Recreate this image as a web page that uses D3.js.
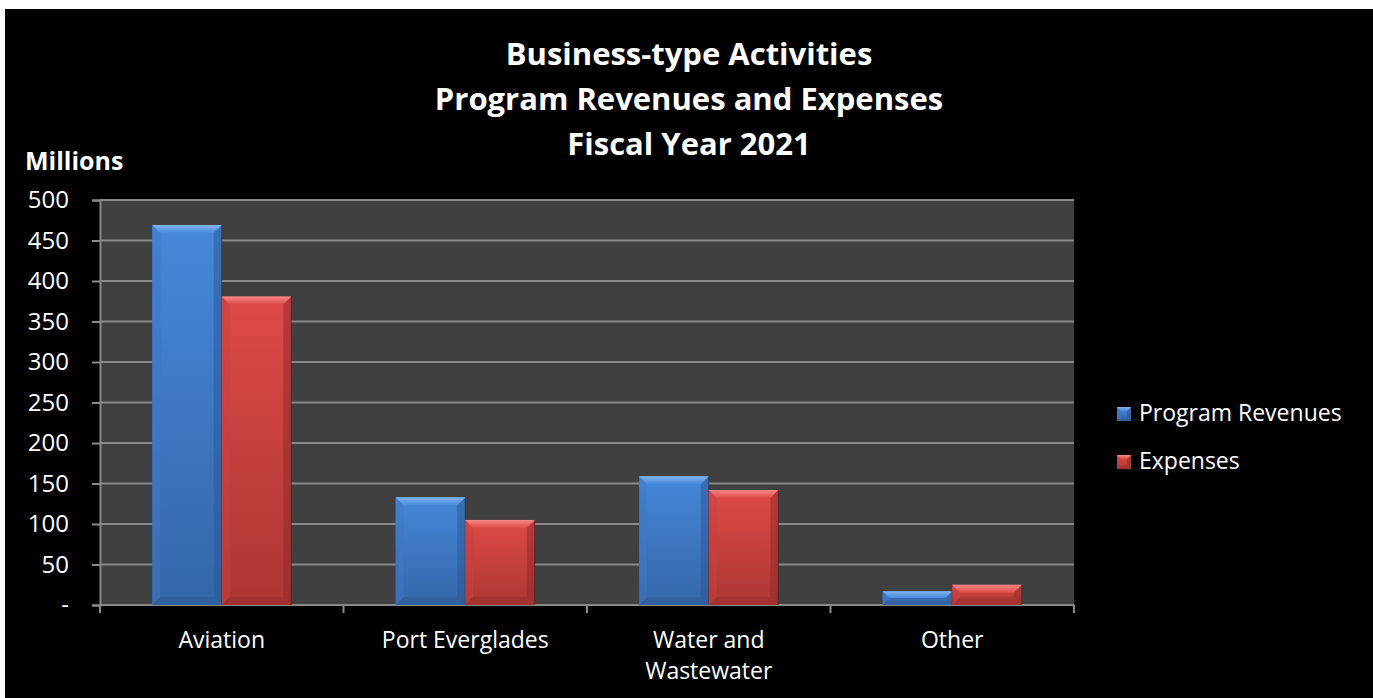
<!DOCTYPE html>
<html>
<head>
<meta charset="utf-8">
<script src="https://cdn.jsdelivr.net/npm/d3@7"></script>
<style>
  html, body { margin: 0; padding: 0; background: #ffffff; }
  svg { display: block; }
  text { font-family: "Open Sans", "DejaVu Sans", sans-serif; fill: #ffffff; }
</style>
</head>
<body>
<div id="chart"></div>
<script>
'use strict';

var categories = ['Aviation', 'Port Everglades', 'Water and Wastewater', 'Other'];
var categoryLines = [['Aviation'], ['Port Everglades'], ['Water and', 'Wastewater'], ['Other']];
var seriesNames = ['Program Revenues', 'Expenses'];
var programRevenues = [469, 133, 159, 17];
var expenses = [381, 105, 142, 25];
var yTicks = [0, 50, 100, 150, 200, 250, 300, 350, 400, 450, 500];
var yTickLabels = ['-', '50', '100', '150', '200', '250', '300', '350', '400', '450', '500'];
var titleLines = ['Business-type Activities', 'Program Revenues and Expenses', 'Fiscal Year 2021'];

var width = 1373,
    height = 698;
var plot = { left: 100, right: 1074, top: 200, bottom: 605 };

var palette = {
    'Program Revenues': { top: '#4688da', bottom: '#3566a8', light: '#82b4f0', dark: '#2c5590', side: '#3f78c2' },
    'Expenses': { top: '#de4a47', bottom: '#ac3633', light: '#f58a87', dark: '#8e2a28', side: '#c84040' }
};

var svg = d3.select('#chart').append('svg')
    .attr('width', width)
    .attr('height', height);

var defs = svg.append('defs');
seriesNames.forEach(function (name, i) {
    var g = defs.append('linearGradient')
        .attr('id', 'grad' + i)
        .attr('x1', 0).attr('y1', 0).attr('x2', 0).attr('y2', 1);
    g.append('stop').attr('offset', '0%').attr('stop-color', palette[name].top);
    g.append('stop').attr('offset', '100%').attr('stop-color', palette[name].bottom);
    var t = defs.append('linearGradient')
        .attr('id', 'bevel' + i)
        .attr('x1', 0).attr('y1', 0).attr('x2', 0).attr('y2', 1);
    t.append('stop').attr('offset', '0%').attr('stop-color', palette[name].light);
    t.append('stop').attr('offset', '100%').attr('stop-color', palette[name].top);
});

// black chart area, leaving a thin white margin top/left like the source
svg.append('rect')
    .attr('x', 5).attr('y', 9)
    .attr('width', width - 5).attr('height', height - 9)
    .attr('fill', '#000000');

var x0 = d3.scaleBand()
    .domain(categories)
    .range([plot.left, plot.right])
    .paddingInner(0)
    .paddingOuter(0);

var barW = x0.bandwidth() / 3.5;
var x1 = d3.scaleBand()
    .domain(seriesNames)
    .range([0, barW * 2]);

var y = d3.scaleLinear()
    .domain([0, 500])
    .range([plot.bottom, plot.top]);

// plot background
svg.append('rect')
    .attr('x', plot.left).attr('y', plot.top)
    .attr('width', plot.right - plot.left).attr('height', plot.bottom - plot.top)
    .attr('fill', '#404040');

// gridlines
svg.append('g').attr('class', 'grid')
    .selectAll('line')
    .data(yTicks.filter(function (d) { return d > 0; }))
    .join('line')
    .attr('x1', plot.left).attr('x2', plot.right)
    .attr('y1', function (d) { return y(d); })
    .attr('y2', function (d) { return y(d); })
    .attr('stroke', '#8a8a8a')
    .attr('stroke-width', 2);

// y axis
var yAxis = d3.axisLeft(y)
    .tickValues(yTicks)
    .tickSize(8)
    .tickPadding(23)
    .tickFormat(function (d, i) { return yTickLabels[i]; });

svg.append('g')
    .attr('transform', 'translate(' + plot.left + ',0)')
    .call(yAxis)
    .call(function (g) {
        g.select('.domain').attr('stroke', '#8a8a8a').attr('stroke-width', 2);
        g.selectAll('.tick line').attr('stroke', '#8a8a8a').attr('stroke-width', 2);
        g.selectAll('.tick text')
            .attr('fill', '#ffffff')
            .style('font-size', '24px')
            .style('font-family', '"Open Sans", sans-serif');
    });

// x axis: ticks at category boundaries
var xBounds = categories.map(function (c) { return x0(c); }).concat([plot.right]);
svg.append('line')
    .attr('x1', plot.left).attr('x2', plot.right)
    .attr('y1', plot.bottom).attr('y2', plot.bottom)
    .attr('stroke', '#8a8a8a').attr('stroke-width', 2);
svg.append('g').selectAll('line')
    .data(xBounds)
    .join('line')
    .attr('x1', function (d) { return d; })
    .attr('x2', function (d) { return d; })
    .attr('y1', plot.bottom).attr('y2', plot.bottom + 8)
    .attr('stroke', '#8a8a8a').attr('stroke-width', 2);

var xLabels = svg.append('g').selectAll('text')
    .data(categories)
    .join('text')
    .attr('x', function (d) { return x0(d) + x0.bandwidth() / 2; })
    .attr('y', 648)
    .attr('text-anchor', 'middle')
    .style('font-size', '23px');
xLabels.each(function (d, i) {
    var t = d3.select(this);
    categoryLines[i].forEach(function (line, j) {
        t.append('tspan')
            .attr('x', x0(d) + x0.bandwidth() / 2)
            .attr('dy', j === 0 ? 0 : 31)
            .text(line);
    });
});

// bars with a bevelled look
var rows = [];
categories.forEach(function (c, i) {
    rows.push({ cat: c, series: seriesNames[0], value: programRevenues[i], idx: 0 });
    rows.push({ cat: c, series: seriesNames[1], value: expenses[i], idx: 1 });
});

var drawBevel = function (g, bx, by, bw, bh, b, col, idx) {
    g.append('polygon')
        .attr('points', [[bx, by], [bx + b, by + b], [bx + b, by + bh - b], [bx, by + bh]].join(' '))
        .attr('fill', col.side).attr('opacity', 0.5);
    g.append('polygon')
        .attr('points', [[bx + bw, by], [bx + bw, by + bh], [bx + bw - b, by + bh - b], [bx + bw - b, by + b]].join(' '))
        .attr('fill', col.dark).attr('opacity', 0.5);
    g.append('polygon')
        .attr('points', [[bx, by + bh], [bx + bw, by + bh], [bx + bw - b, by + bh - b], [bx + b, by + bh - b]].join(' '))
        .attr('fill', col.dark).attr('opacity', 0.35);
    g.append('polygon')
        .attr('points', [[bx, by], [bx + bw, by], [bx + bw - b, by + b], [bx + b, by + b]].join(' '))
        .attr('fill', 'url(#bevel' + idx + ')');
};

var padOuter = (x0.bandwidth() - barW * 2) / 2;
svg.append('g').attr('class', 'bars')
    .selectAll('g.bar')
    .data(rows)
    .join('g')
    .attr('class', 'bar')
    .each(function (d) {
        var g = d3.select(this);
        var bx = x0(d.cat) + padOuter + x1(d.series);
        var by = y(d.value);
        var bh = y(0) - y(d.value);
        var b = Math.min(8, bh / 2);
        g.append('rect')
            .attr('x', bx).attr('y', by)
            .attr('width', x1.bandwidth()).attr('height', bh)
            .attr('fill', 'url(#grad' + d.idx + ')');
        drawBevel(g, bx, by, x1.bandwidth(), bh, b, palette[d.series], d.idx);
        g.append('line')
            .attr('x1', bx + x1.bandwidth()).attr('x2', bx + x1.bandwidth())
            .attr('y1', by).attr('y2', by + bh)
            .attr('stroke', '#1a1a1a').attr('stroke-opacity', 0.5).attr('stroke-width', 1);
    });

// title
svg.append('g').selectAll('text')
    .data(titleLines)
    .join('text')
    .attr('x', 689)
    .attr('y', function (d, i) { return 65 + i * 45; })
    .attr('text-anchor', 'middle')
    .style('font-size', '31px')
    .style('font-weight', 'bold')
    .text(function (d) { return d; });

// unit label
svg.append('text')
    .attr('x', 25).attr('y', 170)
    .style('font-size', '25px')
    .style('font-weight', 'bold')
    .text('Millions');

// legend
var legend = svg.append('g').selectAll('g')
    .data(seriesNames)
    .join('g')
    .attr('transform', function (d, i) { return 'translate(1117,' + (407 + i * 48) + ')'; });
legend.each(function (d, i) {
    var g = d3.select(this);
    g.append('rect')
        .attr('width', 14).attr('height', 14)
        .attr('fill', 'url(#grad' + i + ')');
    drawBevel(g, 0, 0, 14, 14, 4, palette[d], i);
    g.append('text')
        .attr('x', 22).attr('y', 14)
        .style('font-size', '23px')
        .text(d);
});
</script>
</body>
</html>
